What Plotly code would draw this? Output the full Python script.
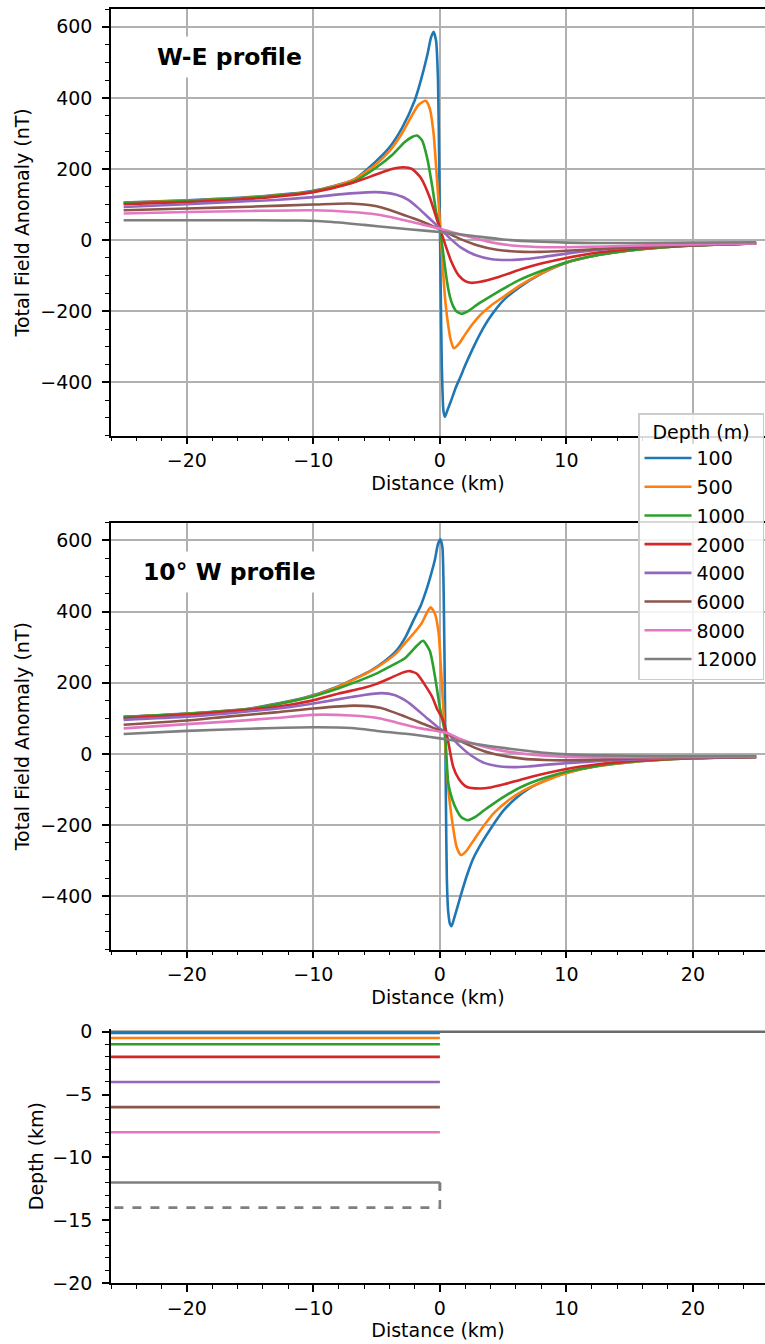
import plotly.graph_objects as go

# ---------------- data ----------------
depths = ["100", "500", "1000", "2000", "4000", "6000", "8000", "12000"]
colors = ["#1f77b4", "#ff7f0e", "#2ca02c", "#d62728", "#9467bd", "#8c564b", "#e377c2", "#7f7f7f"]

# W-E profile (top panel): distance (km), anomaly (nT)
we_100_x = [-25, -20, -15, -10.1, -6.8, -5.1, -4, -3, -2, -1.5, -1.0, -0.7, -0.5, -0.3, -0.15, -0.05, 0.05, 0.15, 0.28, 0.4, 0.6, 0.9, 1.25, 1.62, 2.0, 2.6, 3.2, 4.0, 5.0, 6.3, 8, 10, 12.5, 15, 20, 25]
we_100_y = [106, 112, 121, 138, 170, 220, 260, 315, 392, 450, 520, 570, 586, 560, 450, 200, -100, -350, -480, -497, -478, -450, -415, -385, -352, -305, -262, -215, -170, -132, -95, -64, -42, -29, -15, -9]
we_500_x = [-25, -20, -15, -10, -6.8, -5, -4, -3, -2.3, -1.7, -1.13, -0.8, -0.5, -0.25, 0.0, 0.2, 0.4, 0.62, 0.85, 1.1, 1.5, 2.0, 2.6, 3.2, 4.0, 5.0, 6.3, 8, 10, 12.5, 15, 20, 25]
we_500_y = [105, 111, 120, 137, 170, 215, 250, 300, 345, 380, 392, 370, 300, 180, 50, -60, -160, -230, -280, -304, -292, -265, -235, -210, -185, -160, -128, -94, -63, -42, -29, -15, -9]
we_1000_x = [-25, -20, -15, -10, -6.8, -5, -3.75, -2.8, -2.2, -1.8, -1.4, -1.0, -0.6, -0.3, 0.0, 0.2, 0.4, 0.6, 0.8, 1.0, 1.3, 1.72, 2.3, 3.0, 4.0, 5.0, 6.3, 8, 10, 12.5, 15, 20, 25]
we_1000_y = [104, 110, 119, 136, 165, 205, 240, 275, 290, 294, 280, 230, 150, 80, 30, -20, -75, -125, -160, -182, -200, -207, -198, -180, -158, -137, -112, -87, -62, -42, -29, -15, -9]
we_2000_x = [-25, -20, -16.8, -13, -10, -7, -5, -3.8, -2.9, -2.2, -1.5, -0.8, -0.3, 0.0, 0.4, 0.9, 1.5, 2.0, 2.45, 3.2, 4.5, 6.6, 8, 10, 12.5, 15, 20, 25]
we_2000_y = [101, 107, 112, 122, 135, 160, 185, 200, 205, 200, 175, 120, 65, 33, -10, -60, -100, -115, -120, -117, -105, -80, -66, -50, -35, -25, -14, -9]
we_4000_x = [-25, -20, -16.8, -13, -10, -7.5, -5.1, -3.5, -2.5, -1.7, -0.8, 0.0, 0.8, 1.7, 2.8, 4.0, 5.3, 6.5, 8, 10, 13.4, 17, 20, 25]
we_4000_y = [93, 101, 107, 113, 121, 130, 135, 128, 113, 90, 60, 33, 5, -22, -42, -53, -56, -54, -48, -38, -25, -18, -14, -9]
we_6000_x = [-25, -20, -15, -10, -7.1, -5, -3.4, -2, -0.73, 0.0, 1.5, 3, 4.5, 6.6, 8, 10, 13, 17, 20, 25]
we_6000_y = [84, 89, 94, 100, 103, 95, 78, 60, 42, 30, 5, -15, -27, -33, -33, -30, -24, -17, -14, -9]
we_8000_x = [-25, -20, -15, -10.1, -7, -5, -3.4, -1.5, 0.0, 2, 4, 6, 8.3, 10, 13, 17, 20, 25]
we_8000_y = [75, 79, 82, 84, 79, 72, 61, 45, 32, 12, -6, -16, -20, -20, -18, -14, -12, -9]
we_12000_x = [-25, -20, -15, -11, -8.5, -6, -3.5, -1.0, 1.0, 3.0, 5, 7.5, 10, 12.5, 15, 20, 25]
we_12000_y = [56, 56, 56, 55, 51, 43, 34, 26, 19, 10, 2, -4, -7, -8, -8, -7, -6]

# 10 deg W profile (middle panel)
w10_100_x = [-25, -20, -15, -10.8, -8.1, -5.4, -4.4, -3.4, -2.7, -2.07, -1.5, -1.07, -0.7, -0.4, -0.15, 0.05, 0.2, 0.3, 0.4, 0.48, 0.55, 0.65, 0.8, 0.92, 1.1, 1.62, 2.1, 2.62, 3.3, 3.97, 5.0, 5.98, 7.0, 8.3, 10, 12.5, 15, 20, 25]
w10_100_y = [105, 114, 128, 157, 189, 236, 260, 292, 330, 377, 418, 461, 505, 545, 590, 603, 580, 450, 150, -150, -350, -440, -478, -484, -465, -401, -345, -295, -250, -212, -160, -125, -98, -75, -53, -34, -23, -12, -8]
w10_500_x = [-25, -20, -15, -10.8, -8.1, -5.4, -4.4, -3.4, -2.74, -2.0, -1.4, -1.0, -0.73, -0.4, -0.1, 0.1, 0.3, 0.5, 0.7, 0.92, 1.32, 1.66, 2.1, 2.62, 3.3, 4.3, 5.5, 6.6, 8.3, 10, 12.5, 15, 20, 25]
w10_500_y = [104, 113, 127, 156, 188, 234, 257, 285, 312, 342, 370, 399, 412, 395, 340, 230, 110, -20, -110, -176, -261, -284, -272, -245, -210, -165, -128, -103, -76, -54, -34, -23, -12, -8]
w10_1000_x = [-25, -20, -15, -10.8, -8, -5.08, -4, -2.74, -1.8, -1.33, -0.8, -0.4, 0.0, 0.4, 0.66, 1.0, 1.32, 1.7, 2.22, 2.8, 3.5, 4.3, 5.3, 6.6, 8.3, 10, 12.5, 15, 20, 25]
w10_1000_y = [103, 113, 126, 155, 185, 225, 245, 270, 305, 318, 290, 220, 130, 58, -82, -130, -157, -178, -186, -177, -158, -138, -115, -90, -67, -50, -33, -22, -12, -8]
w10_2000_x = [-25, -20, -16.8, -13, -10.1, -8, -6, -5, -4, -3, -2.4, -1.8, -1.2, -0.6, -0.2, 0.26, 0.55, 1.05, 1.5, 2.1, 3.16, 4.0, 5.0, 6.6, 8.3, 10, 12.5, 15, 20, 25]
w10_2000_y = [100, 110, 119, 132, 150, 170, 186, 197, 212, 228, 233, 225, 195, 160, 125, 95, 55, -36, -70, -92, -97, -94, -86, -70, -55, -42, -29, -20, -11, -8]
w10_4000_x = [-25, -20, -16.8, -13, -10, -7, -6, -4.6, -3.6, -2.8, -2.07, -1.0, -0.05, 0.6, 1.5, 2.5, 3.5, 4.5, 5.8, 7, 8.5, 10, 13, 17, 20, 25]
w10_4000_y = [96, 105, 114, 127, 142, 160, 166, 171, 166, 152, 133, 100, 72, 58, 25, -5, -25, -34, -37, -35, -30, -26, -19, -13, -11, -8]
w10_6000_x = [-25, -20, -16.8, -13, -10, -6.77, -4.74, -2.74, -1.0, 0.6, 2, 3.5, 5, 6.5, 8.3, 10, 13, 17, 20, 25]
w10_6000_y = [82, 94, 105, 117, 128, 136, 130, 105, 80, 58, 30, 8, -5, -13, -17, -18, -15, -11, -10, -8]
w10_8000_x = [-25, -20, -16.8, -13, -10.1, -7, -4.74, -3.4, -1.5, 0.6, 1.6, 3, 4.5, 6.3, 8, 10, 13, 17, 20, 25]
w10_8000_y = [72, 84, 91, 101, 110, 108, 100, 88, 72, 58, 42, 25, 12, 2, -4, -8, -9, -9, -8, -7]
w10_12000_x = [-25, -20, -15, -10, -7, -4.74, -2.5, 0.0, 2, 4, 6.3, 8, 10, 13, 17, 20, 25]
w10_12000_y = [56, 65, 71, 75, 73, 64, 56, 44, 33, 22, 11, 4, -1, -4, -6, -6, -6]

# model panel: top depth of each body (km); 12000 body base (km)
model_top_km = [-0.1, -0.5, -1.0, -2.0, -4.0, -6.0, -8.0, -12.0]
model_base_km = -14.0
model_x_left = -30.0
model_x_edge = 0.0
surface_x = [-30.0, 30.0]
surface_y = [0.0, 0.0]

# x tick labels (the top panel's "20" label is hidden under the legend)
x_tickvals = [-20, -10, 0, 10, 20]
x_ticktext = ["\u221220", "\u221210", "0", "10", "20"]
x_ticktext_top = ["\u221220", "\u221210", "0", "10", ""]

we_curves = [(we_100_x, we_100_y), (we_500_x, we_500_y), (we_1000_x, we_1000_y), (we_2000_x, we_2000_y),
             (we_4000_x, we_4000_y), (we_6000_x, we_6000_y), (we_8000_x, we_8000_y), (we_12000_x, we_12000_y)]
w10_curves = [(w10_100_x, w10_100_y), (w10_500_x, w10_500_y), (w10_1000_x, w10_1000_y), (w10_2000_x, w10_2000_y),
              (w10_4000_x, w10_4000_y), (w10_6000_x, w10_6000_y), (w10_8000_x, w10_8000_y), (w10_12000_x, w10_12000_y)]

# ---------------- figure ----------------
FONT = "DejaVu Sans"
W, H = 765, 1344
fig = go.Figure()

LW = 2.6
for i, (d, c) in enumerate(zip(depths, colors)):
    xs, ys = we_curves[i]
    fig.add_trace(go.Scatter(x=xs, y=ys, mode="lines", name=d, legendgroup=d,
                             line=dict(color=c, width=LW, shape="spline", smoothing=0.6),
                             xaxis="x", yaxis="y", showlegend=True, hoverinfo="skip"))
for i, (d, c) in enumerate(zip(depths, colors)):
    xs, ys = w10_curves[i]
    fig.add_trace(go.Scatter(x=xs, y=ys, mode="lines", name=d, legendgroup=d,
                             line=dict(color=c, width=LW, shape="spline", smoothing=0.6),
                             xaxis="x2", yaxis="y2", showlegend=False, hoverinfo="skip"))

# model panel
fig.add_trace(go.Scatter(x=surface_x, y=surface_y, mode="lines", line=dict(color="#6a6a6a", width=LW),
                         xaxis="x3", yaxis="y3", showlegend=False, hoverinfo="skip"))
for d, c, z in zip(depths, colors, model_top_km):
    fig.add_trace(go.Scatter(x=[model_x_left, model_x_edge], y=[z, z], mode="lines",
                             line=dict(color=c, width=LW), xaxis="x3", yaxis="y3",
                             showlegend=False, hoverinfo="skip"))
fig.add_trace(go.Scatter(x=[model_x_edge, model_x_edge], y=[model_top_km[-1], model_top_km[-1] - 0.6], mode="lines",
                         line=dict(color=colors[-1], width=LW), xaxis="x3", yaxis="y3",
                         showlegend=False, hoverinfo="skip"))
fig.add_trace(go.Scatter(x=[model_x_left, model_x_edge, model_x_edge], y=[model_base_km, model_base_km, model_top_km[-1]],
                         mode="lines", line=dict(color=colors[-1], width=LW, dash="dash"),
                         xaxis="x3", yaxis="y3", showlegend=False, hoverinfo="skip"))

L = 111
def px2dom(top_px, bot_px):
    return [1 - bot_px / H, 1 - top_px / H]

tickfont = dict(family=FONT, size=19, color="black")
minor_x = dict(dtick=2, tick0=0, ticks="outside", ticklen=4, tickwidth=1.2, tickcolor="black", showgrid=False)

def xax(anchor, ticktext, grid, mirror):
    return dict(range=[-26, 25.7], domain=[0, 1], anchor=anchor, automargin=False,
                showline=True, linecolor="black", linewidth=1.5, mirror=mirror,
                ticks="outside", ticklen=7, tickwidth=1.5, tickcolor="black",
                tickmode="array", tickvals=x_tickvals, ticktext=ticktext,
                minor=minor_x, zeroline=False, tickfont=tickfont, ticklabelstandoff=0,
                showgrid=grid, gridcolor="#b0b0b0", gridwidth=1.5,
                title=dict(text="Distance (km)", font=tickfont, standoff=6))

def yax(anchor, dom, rng, dtick, mdtick, grid, title, standoff):
    return dict(anchor=anchor, domain=dom, range=rng, automargin=False,
                showline=True, linecolor="black", linewidth=1.5,
                ticks="outside", ticklen=7, tickwidth=1.5, tickcolor="black",
                dtick=dtick, tick0=0,
                minor=dict(dtick=mdtick, tick0=0, ticks="outside", ticklen=4, tickwidth=1.2,
                           tickcolor="black", showgrid=False),
                zeroline=False, tickfont=tickfont, ticklabelstandoff=6,
                showgrid=grid, gridcolor="#b0b0b0", gridwidth=1.5,
                title=dict(text=title, font=tickfont, standoff=standoff))

fig.update_layout(
    template="none",
    width=W, height=H, autosize=False, margin=dict(l=L, r=0, t=0, b=0, pad=0, autoexpand=False),
    paper_bgcolor="white", plot_bgcolor="white",
    font=dict(family=FONT, size=19, color="black"),
    xaxis=xax("y", x_ticktext_top, True, True),
    yaxis=yax("x", px2dom(9, 435.7), [-550, 650], 200, 50, True, "Total Field Anomaly (nT)", 6),
    xaxis2=xax("y2", x_ticktext, True, True),
    yaxis2=yax("x2", px2dom(522.7, 949.7), [-550, 650], 200, 50, True, "Total Field Anomaly (nT)", 6),
    xaxis3=xax("y3", x_ticktext, False, False),
    yaxis3=yax("x3", px2dom(1029.2, 1283), [-20, 0.2], 5, 1, False, "Depth (km)", 4),
    legend=dict(x=(638 - L) / (W - L), y=1 - 413 / H, xanchor="left", yanchor="top",
                bgcolor="rgba(255,255,255,0.85)", bordercolor="#cccccc", borderwidth=1.5,
                font=dict(family=FONT, size=19, color="black"), itemwidth=47, tracegroupgap=1,
                title=dict(text="Depth (m)", side="top center", font=dict(family=FONT, size=19, color="black"))),
    annotations=[
        dict(text="<b>W-E profile</b>", x=-22.9, y=514, xref="x", yref="y", xanchor="left", yanchor="middle",
             showarrow=False, bgcolor="white", borderpad=6, font=dict(family=FONT, size=23.5, color="black")),
        dict(text="<b>10° W profile</b>", x=-24.0, y=512, xref="x2", yref="y2", xanchor="left", yanchor="middle",
             showarrow=False, bgcolor="white", borderpad=6, font=dict(family=FONT, size=23.5, color="black")),
    ],
)

fig.write_html("out.html", config={"displayModeBar": False},
               post_script="document.body.style.margin='0px';document.body.style.overflow='hidden';")
